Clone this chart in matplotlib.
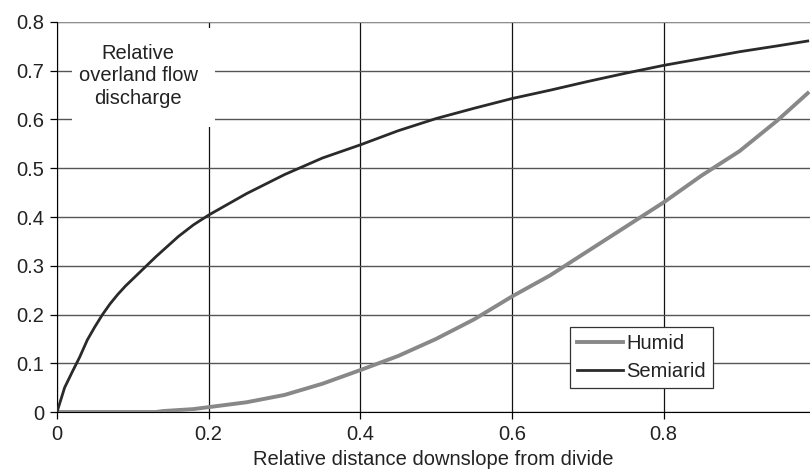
import matplotlib
matplotlib.use("Agg")
import matplotlib.pyplot as plt
from matplotlib.patches import Rectangle

plt.rcParams['font.family'] = ['Liberation Sans', 'DejaVu Sans']

# relative distance downslope from divide
x = [0, 0.01, 0.02, 0.03, 0.04, 0.05, 0.06, 0.07, 0.08, 0.09, 0.1, 0.12,
     0.13, 0.14, 0.16, 0.18, 0.2, 0.25, 0.3, 0.35, 0.4, 0.45, 0.5, 0.55,
     0.6, 0.65, 0.7, 0.75, 0.8, 0.85, 0.9, 0.95, 0.99]

humid = [0, 0, 0, 0, 0, 0, 0, 0, 0, 0, 0, 0,
         0, 0.002, 0.004, 0.006, 0.01, 0.02, 0.035, 0.058, 0.086, 0.115,
         0.15, 0.19, 0.237, 0.28, 0.33, 0.38, 0.43, 0.485, 0.535, 0.598,
         0.654]

semiarid = [0, 0.05, 0.082, 0.113, 0.148, 0.175, 0.2, 0.222, 0.241, 0.258,
            0.273, 0.303, 0.318, 0.332, 0.36, 0.384, 0.404, 0.448, 0.487,
            0.521, 0.548, 0.577, 0.602, 0.623, 0.643, 0.66, 0.678, 0.695,
            0.711, 0.725, 0.739, 0.751, 0.761]

xticks = [0, 0.2, 0.4, 0.6, 0.8]
xtick_labels = ['0', '0.2', '0.4', '0.6', '0.8']
yticks = [0, 0.1, 0.2, 0.3, 0.4, 0.5, 0.6, 0.7, 0.8]
ytick_labels = ['0', '0.1', '0.2', '0.3', '0.4', '0.5', '0.6', '0.7', '0.8']

fs = 14.5

fig = plt.figure(figsize=(8.1, 4.72), dpi=100)
ax = fig.add_axes([0.0704, 0.1271, 0.9296, 0.8263])

ax.plot(x, humid, color='#888888', linewidth=2.8, label='Humid', zorder=3)
ax.plot(x, semiarid, color='#2a2a2a', linewidth=2.0, label='Semiarid', zorder=3)

ax.set_xlim(0, 0.993)
ax.set_ylim(0, 0.8)
ax.set_xticks(xticks)
ax.set_xticklabels(xtick_labels)
ax.set_yticks(yticks)
ax.set_yticklabels(ytick_labels)

ax.set_axisbelow(True)
ax.yaxis.grid(True, color='#555555', linewidth=1.0)
ax.xaxis.grid(True, color='#111111', linewidth=0.9)

for side in ['top', 'right']:
    ax.spines[side].set_visible(False)
ax.spines['left'].set_color('black')
ax.spines['bottom'].set_color('black')
ax.axhline(0.8, color='#999999', linewidth=1.2, zorder=0.6)

ax.tick_params(axis='both', direction='out', length=5, width=0.9,
               colors='black', labelsize=fs, labelcolor='#222222', pad=4)

ax.set_xlabel('Relative distance downslope from divide', fontsize=fs,
              color='#222222', labelpad=5)

# label box over the grid
ax.add_patch(Rectangle((0.02, 0.731), 0.19, 0.254, transform=ax.transAxes,
                       facecolor='white', edgecolor='none', zorder=1))
ax.text(0.1076, 0.862, 'Relative\noverland flow\ndischarge', transform=ax.transAxes,
        ha='center', va='center', fontsize=fs, color='#222222',
        linespacing=1.25, zorder=2)

leg = ax.legend(loc='upper left', bbox_to_anchor=(0.681, 0.219), fontsize=fs,
                frameon=True, fancybox=False, handlelength=2.3, handletextpad=0.15,
                borderpad=0.35, labelspacing=0.45, borderaxespad=0)
leg.get_frame().set_edgecolor('#333333')
leg.get_frame().set_linewidth(0.9)
leg.get_frame().set_alpha(1)
for t in leg.get_texts():
    t.set_color('#222222')

fig.savefig('out.png', dpi=100)
